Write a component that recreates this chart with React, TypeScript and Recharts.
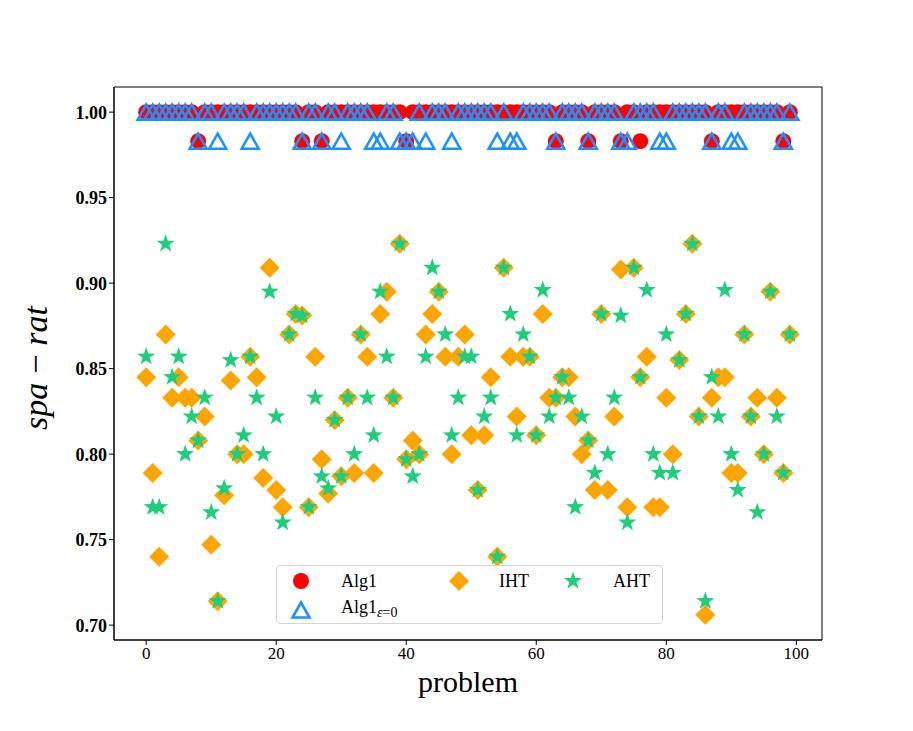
import { ScatterChart, Scatter, XAxis, YAxis, Legend, ReferenceArea } from 'recharts';

// problem index 0..99
const problems = [
  0, 1, 2, 3, 4, 5, 6, 7, 8, 9,
  10, 11, 12, 13, 14, 15, 16, 17, 18, 19,
  20, 21, 22, 23, 24, 25, 26, 27, 28, 29,
  30, 31, 32, 33, 34, 35, 36, 37, 38, 39,
  40, 41, 42, 43, 44, 45, 46, 47, 48, 49,
  50, 51, 52, 53, 54, 55, 56, 57, 58, 59,
  60, 61, 62, 63, 64, 65, 66, 67, 68, 69,
  70, 71, 72, 73, 74, 75, 76, 77, 78, 79,
  80, 81, 82, 83, 84, 85, 86, 87, 88, 89,
  90, 91, 92, 93, 94, 95, 96, 97, 98, 99,
];

const alg1 = [
  1, 1, 1, 1, 1, 1, 1, 1, 0.983, 1,
  1, 1, 1, 1, 1, 1, 1, 1, 1, 1,
  1, 1, 1, 1, 0.983, 1, 1, 0.983, 1, 1,
  1, 1, 1, 1, 1, 1, 1, 1, 1, 1,
  0.983, 1, 1, 1, 1, 1, 1, 1, 1, 1,
  1, 1, 1, 1, 1, 1, 1, 1, 1, 1,
  1, 1, 1, 0.983, 1, 1, 1, 1, 0.983, 1,
  1, 1, 1, 0.983, 1, 1, 0.983, 1, 1, 1,
  1, 1, 1, 1, 1, 1, 1, 0.983, 1, 1,
  1, 1, 1, 1, 1, 1, 1, 1, 0.983, 1,
];

const alg1Eps0 = [
  1, 1, 1, 1, 1, 1, 1, 1, 0.983, 1,
  1, 0.983, 1, 1, 1, 1, 0.983, 1, 1, 1,
  1, 1, 1, 1, 0.983, 1, 1, 0.983, 1, 1,
  0.983, 1, 1, 1, 1, 0.983, 0.983, 1, 1, 0.983,
  0.983, 0.983, 1, 0.983, 1, 1, 1, 0.983, 1, 1,
  1, 1, 1, 1, 0.983, 1, 0.983, 0.983, 1, 1,
  1, 1, 1, 0.983, 1, 1, 1, 1, 0.983, 1,
  1, 1, 1, 0.983, 0.983, 1, 1, 1, 1, 0.983,
  0.983, 1, 1, 1, 1, 1, 1, 0.983, 1, 1,
  0.983, 0.983, 1, 1, 1, 1, 1, 1, 0.983, 1,
];

const iht = [
  0.845, 0.789, 0.740, 0.870, 0.833, 0.845, 0.833, 0.833, 0.808, 0.822,
  0.747, 0.714, 0.776, 0.843, 0.800, 0.800, 0.857, 0.845, 0.786, 0.909,
  0.779, 0.769, 0.870, 0.882, 0.881, 0.769, 0.857, 0.797, 0.777, 0.820,
  0.787, 0.833, 0.789, 0.870, 0.857, 0.789, 0.882, 0.895, 0.833, 0.923,
  0.797, 0.808, 0.800, 0.870, 0.882, 0.895, 0.857, 0.800, 0.857, 0.870,
  0.811, 0.779, 0.811, 0.845, 0.740, 0.909, 0.857, 0.822, 0.857, 0.857,
  0.811, 0.882, 0.833, 0.833, 0.845, 0.845, 0.822, 0.800, 0.808, 0.779,
  0.882, 0.779, 0.822, 0.908, 0.769, 0.909, 0.845, 0.857, 0.769, 0.769,
  0.833, 0.800, 0.855, 0.882, 0.923, 0.822, 0.706, 0.833, 0.845, 0.845,
  0.789, 0.789, 0.870, 0.822, 0.833, 0.800, 0.895, 0.833, 0.789, 0.870,
];

const aht = [
  0.857, 0.769, 0.769, 0.923, 0.845, 0.857, 0.800, 0.822, 0.808, 0.833,
  0.766, 0.714, 0.780, 0.855, 0.800, 0.811, 0.857, 0.833, 0.800, 0.895,
  0.822, 0.760, 0.870, 0.882, 0.881, 0.769, 0.833, 0.787, 0.780, 0.820,
  0.787, 0.833, 0.800, 0.870, 0.833, 0.811, 0.895, 0.857, 0.833, 0.923,
  0.797, 0.787, 0.800, 0.857, 0.909, 0.895, 0.870, 0.811, 0.833, 0.857,
  0.857, 0.779, 0.822, 0.833, 0.740, 0.909, 0.882, 0.811, 0.870, 0.857,
  0.811, 0.896, 0.822, 0.833, 0.845, 0.833, 0.769, 0.822, 0.808, 0.789,
  0.882, 0.800, 0.833, 0.881, 0.760, 0.909, 0.845, 0.896, 0.800, 0.789,
  0.870, 0.789, 0.855, 0.882, 0.923, 0.822, 0.714, 0.845, 0.822, 0.896,
  0.800, 0.779, 0.870, 0.822, 0.766, 0.800, 0.895, 0.822, 0.789, 0.870,
];

const xTicks = [0, 20, 40, 60, 80, 100];
const yTicks = [0.7, 0.75, 0.8, 0.85, 0.9, 0.95, 1.0];
const xDomain = [-4.95, 103.95];
const yDomain = [0.6913, 1.0147];

const RED = '#ff0000';
const BLUE = '#1e90ff';
const ORANGE = '#ffa500';
const GREEN = '#1fce7c';
const SERIF = '"Liberation Serif", "DejaVu Serif", serif';

const toPoints = (values: number[]) => problems.map((p, i) => ({ x: p, y: values[i] }));

const circlePath = (cx: number, cy: number) => <circle cx={cx} cy={cy} r={8} fill={RED} />;

const trianglePath = (cx: number, cy: number) => (
  <polygon
    points={`${cx},${cy - 7.5} ${cx - 8.5},${cy + 7.5} ${cx + 8.5},${cy + 7.5}`}
    fill="none"
    stroke={BLUE}
    strokeWidth={2.6}
  />
);

const diamondPath = (cx: number, cy: number) => (
  <polygon points={`${cx},${cy - 10} ${cx + 10},${cy} ${cx},${cy + 10} ${cx - 10},${cy}`} fill={ORANGE} />
);

const starPath = (cx: number, cy: number) => {
  const pts: string[] = [];
  for (let k = 0; k < 10; k++) {
    const r = k % 2 === 0 ? 9.5 : 3.8;
    const a = -Math.PI / 2 + (k * Math.PI) / 5;
    pts.push(`${cx + r * Math.cos(a)},${cy + r * Math.sin(a)}`);
  }
  return <polygon points={pts.join(' ')} fill={GREEN} />;
};

const shapeOf = (draw: (cx: number, cy: number) => JSX.Element) => (props: any) => draw(props.cx, props.cy);

const legendItems = [
  { name: 'Alg1', draw: circlePath, left: 24, top: 15 },
  { name: 'Alg1ε=0', draw: trianglePath, left: 24, top: 41 },
  { name: 'IHT', draw: diamondPath, left: 182, top: 15 },
  { name: 'AHT', draw: starPath, left: 296, top: 15 },
];

function LegendBox() {
  return (
    <div
      style={{
        position: 'relative',
        width: 387,
        height: 59,
        border: '1px solid #d5d5d5',
        borderRadius: 4,
        background: 'rgba(255,255,255,0.8)',
        boxSizing: 'border-box',
        fontFamily: SERIF,
        fontSize: 18,
        color: '#000',
      }}
    >
      {legendItems.map((it) => (
        <div key={it.name} style={{ position: 'absolute', left: it.left - 14, top: it.top - 12, display: 'flex', alignItems: 'center' }}>
          <svg width={28} height={24}>
            {it.draw(14, 12)}
          </svg>
          <span style={{ marginLeft: 26, lineHeight: '24px', whiteSpace: 'nowrap' }}>
            {it.name === 'Alg1ε=0' ? (
              <>
                Alg1
                <sub style={{ fontSize: 14, verticalAlign: '-4px' }}>
                  <i>ε</i>=0
                </sub>
              </>
            ) : (
              it.name
            )}
          </span>
        </div>
      ))}
    </div>
  );
}

const YLabel = () => (
  <text x={47} y={368} transform="rotate(-90 47 368)" textAnchor="middle" fontFamily={SERIF} fontSize={34} fill="#000">
    <tspan fontStyle="italic">spa</tspan>
    <tspan dx={9}>−</tspan>
    <tspan dx={9} fontStyle="italic">rat</tspan>
  </text>
);

const XLabel = () => (
  <text x={468} y={692} textAnchor="middle" fontFamily={SERIF} fontSize={30} fill="#000">
    problem
  </text>
);

export default function App() {
  return (
    <div style={{ position: 'absolute', left: 0, top: 0, width: 913, height: 731, background: '#fff' }}>
      <ScatterChart width={913} height={731} margin={{ top: 87, right: 91, bottom: 61, left: 54 }}>
        <XAxis
          type="number"
          dataKey="x"
          domain={xDomain}
          ticks={xTicks}
          allowDataOverflow
          height={30}
          stroke="#000"
          tickSize={5}
          tick={{ fontFamily: SERIF, fontSize: 17, fill: '#000' }}
          label={<XLabel />}
        />
        <YAxis
          type="number"
          dataKey="y"
          domain={yDomain}
          ticks={yTicks}
          allowDataOverflow
          width={60}
          stroke="#000"
          tickSize={5}
          tickFormatter={(v: number) => v.toFixed(2)}
          tick={{ fontFamily: SERIF, fontSize: 18, fontWeight: 'bold', fill: '#000' }}
          label={<YLabel />}
        />
        <ReferenceArea x1={xDomain[0]} x2={xDomain[1]} y1={yDomain[0]} y2={yDomain[1]} fill="none" stroke="#000" strokeWidth={1} ifOverflow="visible" />
        <Scatter name="Alg1" data={toPoints(alg1)} shape={shapeOf(circlePath)} isAnimationActive={false} />
        <Scatter name="Alg1eps0" data={toPoints(alg1Eps0)} shape={shapeOf(trianglePath)} isAnimationActive={false} />
        <Scatter name="IHT" data={toPoints(iht)} shape={shapeOf(diamondPath)} isAnimationActive={false} />
        <Scatter name="AHT" data={toPoints(aht)} shape={shapeOf(starPath)} isAnimationActive={false} />
        <Legend
          layout="horizontal"
          verticalAlign="middle"
          align="center"
          content={() => <LegendBox />}
          wrapperStyle={{ left: 276, top: 565, width: 387, height: 59 }}
        />
      </ScatterChart>
    </div>
  );
}
